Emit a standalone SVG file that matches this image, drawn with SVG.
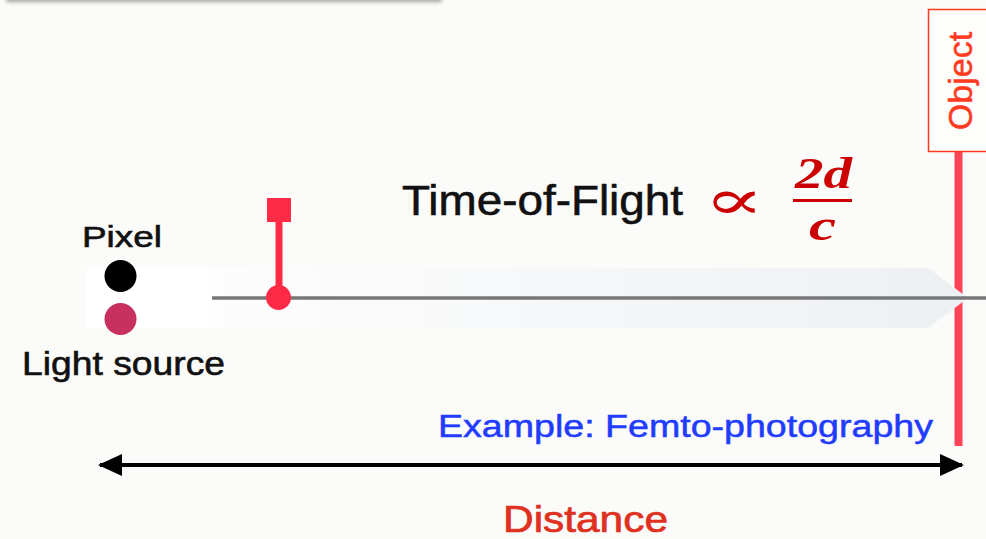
<svg xmlns="http://www.w3.org/2000/svg" width="986" height="539" viewBox="0 0 986 539">
  <style>
    .sans { font-family: "Liberation Sans", Arial, Helvetica, sans-serif; }
    .label { fill: #111; stroke: #111; stroke-width: 0.6; }
    .red { fill: #ff2a45; }
    .redstroke { stroke: #ff2a45; }
    .math { font-family: "Liberation Serif", "DejaVu Serif", serif; font-weight: bold; font-style: italic; fill: #cc0000; }
  </style>
  <defs>
    <linearGradient id="beam" x1="0" y1="0" x2="1" y2="0">
      <stop offset="0" stop-color="#ffffff"/>
      <stop offset="0.14" stop-color="#ffffff"/>
      <stop offset="0.15" stop-color="#fdfdfd"/>
      <stop offset="1" stop-color="#edf0f3"/>
    </linearGradient>
    <filter id="shadow" x="-5%" y="-50%" width="110%" height="300%">
      <feGaussianBlur in="SourceAlpha" stdDeviation="2"/>
      <feOffset dy="1.5"/>
      <feComponentTransfer><feFuncA type="linear" slope="0.35"/></feComponentTransfer>
      <feMerge><feMergeNode/><feMergeNode in="SourceGraphic"/></feMerge>
    </filter>
    <marker id="arrowhead" viewBox="0 0 24 22" refX="22" refY="11" markerWidth="24" markerHeight="22" markerUnits="userSpaceOnUse" orient="auto-start-reverse">
      <path d="M0,0 L24,11 L0,22 Z" fill="#000"/>
    </marker>
  </defs>

  <!-- background -->
  <rect x="0" y="0" width="986" height="539" fill="#fbfbfa"/>

  <!-- panel edge at the top -->
  <rect x="6" y="-40" width="436" height="40" fill="#fbfbfa" filter="url(#shadow)"/>

  <!-- object plane -->
  <g id="object">
    <line x1="958.5" y1="152" x2="958.5" y2="446" stroke="#ff4458" stroke-width="8"/>
    <rect x="928.5" y="9.5" width="70" height="142" fill="#fdfdfc" stroke="#ff3a1e" stroke-width="1.5"/>
    <text class="sans" x="0" y="0" font-size="34" fill="#ff3a1e" stroke="#ff3a1e" stroke-width="0.5" text-anchor="middle" transform="translate(972,81) rotate(-90)">Object</text>
  </g>

  <!-- light beam -->
  <g id="beam-shape">
    <path d="M87,268 L928,268 L968,298 L928,328 L87,328 Z" fill="url(#beam)"/>
  </g>

  <!-- connectors -->
  <g id="connectors">
    <line x1="212" y1="298" x2="986" y2="298" stroke="#777" stroke-width="3.5"/>
    <line x1="100" y1="465" x2="962" y2="465" stroke="#000" stroke-width="4" marker-start="url(#arrowhead)" marker-end="url(#arrowhead)"/>
  </g>

  <!-- light pulse -->
  <g id="pulse">
    <line x1="279" y1="212" x2="279" y2="297" class="redstroke" stroke-width="7"/>
    <rect x="267" y="198" width="24" height="24" class="red"/>
    <circle cx="278.5" cy="297.5" r="12.5" class="red"/>
  </g>

  <!-- sensor -->
  <g id="pixel">
    <circle cx="120.5" cy="276" r="16" fill="#000"/>
    <text class="sans label" x="82" y="247" font-size="29" textLength="80" lengthAdjust="spacingAndGlyphs">Pixel</text>
  </g>
  <g id="light-source">
    <circle cx="120.5" cy="319" r="16" fill="#c83060"/>
    <text class="sans label" x="22" y="375" font-size="33" textLength="203" lengthAdjust="spacingAndGlyphs">Light source</text>
  </g>

  <!-- formula -->
  <g id="formula">
    <text class="sans label" x="402" y="215" font-size="42" textLength="281" lengthAdjust="spacingAndGlyphs">Time-of-Flight</text>
    <text x="0" y="0" font-family="DejaVu Serif, serif" font-size="56" fill="#cc0000" text-anchor="middle" transform="translate(734,219) scale(1.6,1)">∝</text>
    <text class="math" x="795" y="188" font-size="44" textLength="57" lengthAdjust="spacingAndGlyphs">2d</text>
    <line x1="793" y1="200.5" x2="852" y2="200.5" stroke="#cc0000" stroke-width="3"/>
    <text class="math" x="809" y="240" font-size="44" textLength="27" lengthAdjust="spacingAndGlyphs">c</text>
  </g>

  <!-- captions -->
  <g id="example">
    <text class="sans" x="438" y="437" font-size="31" fill="#1f3cff" stroke="#1f3cff" stroke-width="0.5" textLength="495" lengthAdjust="spacingAndGlyphs">Example: Femto-photography</text>
  </g>
  <g id="distance">
    <text class="sans" x="503" y="532" font-size="37" fill="#e0301e" stroke="#e0301e" stroke-width="0.7" textLength="165" lengthAdjust="spacingAndGlyphs">Distance</text>
  </g>
</svg>
